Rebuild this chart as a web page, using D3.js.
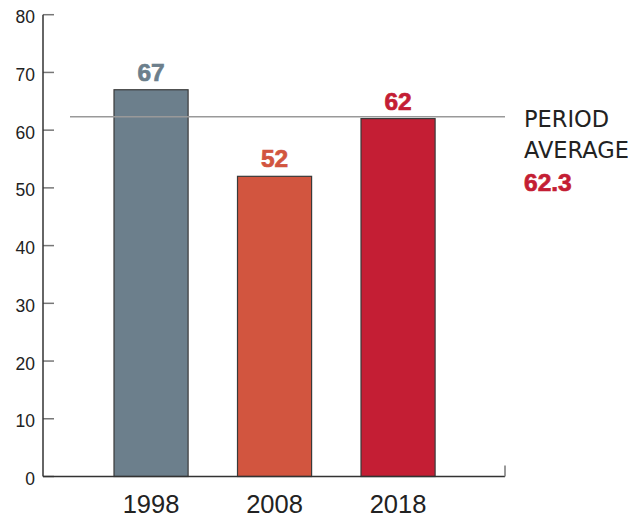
<!DOCTYPE html>
<html><head><meta charset="utf-8">
<script src="https://cdn.jsdelivr.net/npm/d3@7"></script>
<style>body{margin:0;background:#fff}svg{display:block}</style>
</head><body><svg id="c" width="628" height="518"></svg>
<script>
const categories = ["1998","2008","2018"];
const values = [67, 52, 62];
const colors = ["#6c7f8c", "#d2553f", "#c41e34"];
const average = 62.3;
const yTicks = [0,10,20,30,40,50,60,70,80];
const avgLabel = ["PERIOD","AVERAGE"];

const svg = d3.select("#c").style("font-family","'Liberation Sans', Arial, sans-serif");
const y = d3.scaleLinear().domain([0,80]).range([476.5,14.7]);
const x = d3.scaleBand().domain(categories).range([52.25,496.85]).paddingInner(0.4).paddingOuter(0.5);
const axisX0 = 43, axisX1 = 505;

// y axis ticks
svg.append("g").selectAll("line").data(yTicks).join("line")
  .attr("x1",axisX0).attr("x2",54).attr("y1",d=>y(d)).attr("y2",d=>y(d))
  .attr("stroke","#777").attr("stroke-width",1.5);
svg.append("g").selectAll("text").data(yTicks).join("text")
  .attr("x",35).attr("y",d=>y(d)+8.5).attr("text-anchor","end")
  .attr("font-size",17.5).attr("fill","#222").text(d=>d);

// bars
svg.append("g").selectAll("rect").data(values).join("rect")
  .attr("x",(d,i)=>x(categories[i])).attr("width",x.bandwidth())
  .attr("y",d=>y(d)).attr("height",d=>y(0)-y(d))
  .attr("fill",(d,i)=>colors[i]).attr("stroke","#3a3a3a").attr("stroke-width",1.2);

// value labels
svg.append("g").selectAll("text").data(values).join("text")
  .attr("x",(d,i)=>x(categories[i])+x.bandwidth()/2).attr("y",d=>y(d)-9)
  .attr("text-anchor","middle").attr("font-size",24.5).attr("font-weight","bold")
  .attr("fill",(d,i)=>colors[i]).attr("stroke",(d,i)=>colors[i]).attr("stroke-width",0.7)
  .text(d=>d);

// axes lines
svg.append("line").attr("x1",axisX0).attr("x2",axisX0).attr("y1",y(80)).attr("y2",y(0))
  .attr("stroke","#333").attr("stroke-width",1.5);
svg.append("line").attr("x1",axisX0).attr("x2",axisX1).attr("y1",y(0)).attr("y2",y(0))
  .attr("stroke","#333").attr("stroke-width",1.5);
svg.append("line").attr("x1",axisX1).attr("x2",axisX1).attr("y1",y(0)).attr("y2",y(0)-11)
  .attr("stroke","#777").attr("stroke-width",1.5);

// average line
svg.append("line").attr("x1",70).attr("x2",axisX1).attr("y1",y(average)).attr("y2",y(average))
  .attr("stroke","#999").attr("stroke-width",1.5);

// year labels
svg.append("g").selectAll("text").data(categories).join("text")
  .attr("x",d=>x(d)+x.bandwidth()/2).attr("y",513.3).attr("text-anchor","middle")
  .attr("font-size",25.5).attr("fill","#222").text(d=>d);

// average annotation
svg.append("g").selectAll("text").data(avgLabel).join("text")
  .attr("x",524).attr("y",(d,i)=>126.7+i*30.8).style("font-family","'DejaVu Sans', sans-serif")
  .attr("font-size",22.5).attr("fill","#222").text(d=>d);
svg.append("text").attr("x",524).attr("y",191).attr("font-size",24.5).attr("font-weight","bold")
  .attr("fill",colors[2]).attr("stroke",colors[2]).attr("stroke-width",0.7)
  .text(average.toFixed(1));
</script></body></html>
